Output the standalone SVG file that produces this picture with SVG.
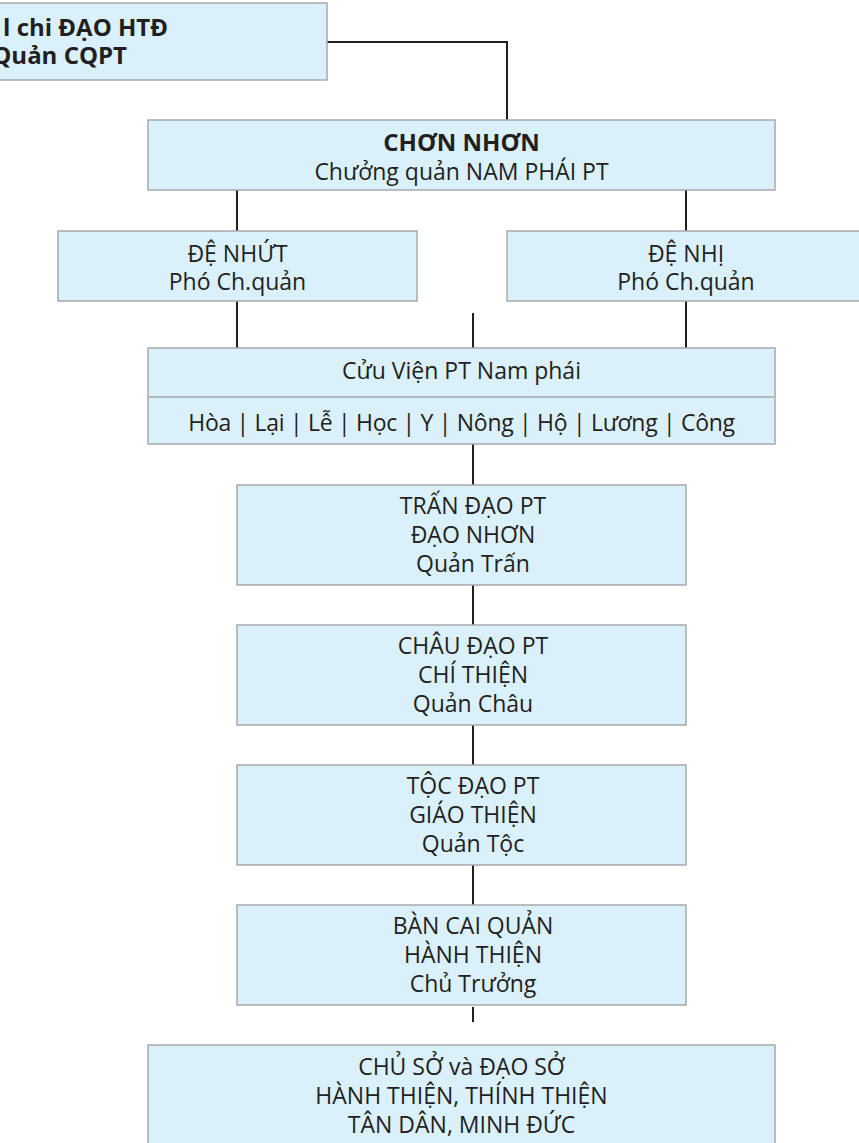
<svg xmlns="http://www.w3.org/2000/svg" width="859" height="1143" viewBox="0 0 859 1143">
<style>
.box{fill:#daf0fb;stroke:#a7a9ac;stroke-width:1.5}
.t{font-family:"Open Sans","Noto Sans","DejaVu Sans",sans-serif;font-size:23px;fill:#231f20;text-anchor:middle}
.b{font-weight:bold;font-size:24px}
.c{stroke:#231f20;stroke-width:2;fill:none}
</style>
<rect width="859" height="1143" fill="#ffffff"/>
<g id="connectors">
<path class="c" d="M327 42H507V120"/>
<path class="c" d="M237 190V231M686 190V231"/>
<path class="c" d="M237 301V348M686 301V348M473 313V348"/>
<path class="c" d="M473 444V485M473 585V625M473 725V765M473 865V905M473 1007V1022"/>
</g>
<g id="node-htd">
<rect class="box" x="-10" y="3" width="337" height="77"/>
<text class="t b" x="168" y="36" style="text-anchor:end">l chi ĐẠO HTĐ</text>
<text class="t b" x="127" y="64" style="text-anchor:end">Quản CQPT</text>
</g>
<g id="node-chonnhon">
<rect class="box" x="148" y="120" width="627" height="70"/>
<text class="t b" x="461.5" y="151">CHƠN NHƠN</text>
<text class="t" x="461.5" y="180">Chưởng quản NAM PHÁI PT</text>
</g>
<g id="node-denhut">
<rect class="box" x="58" y="231" width="359" height="70"/>
<text class="t" x="237.5" y="262">ĐỆ NHỨT</text>
<text class="t" x="237.5" y="290">Phó Ch.quản</text>
</g>
<g id="node-denhi">
<rect class="box" x="507" y="231" width="359" height="70"/>
<text class="t" x="686" y="262">ĐỆ NHỊ</text>
<text class="t" x="686" y="290">Phó Ch.quản</text>
</g>
<g id="node-cuuvien">
<rect class="box" x="148" y="348" width="627" height="96"/>
<line x1="148" y1="397" x2="775" y2="397" stroke="#a7a9ac" stroke-width="1.5"/>
<text class="t" x="461.5" y="379">Cửu Viện PT Nam phái</text>
<text class="t" x="461.5" y="431" style="letter-spacing:-0.3px">Hòa | Lại | Lễ | Học | Y | Nông | Hộ | Lương | Công</text>
</g>
<g id="node-tran">
<rect class="box" x="237" y="485" width="449" height="100"/>
<text class="t" x="473" y="514">TRẤN ĐẠO PT</text>
<text class="t" x="473" y="543">ĐẠO NHƠN</text>
<text class="t" x="473" y="572">Quản Trấn</text>
</g>
<g id="node-chau">
<rect class="box" x="237" y="625" width="449" height="100"/>
<text class="t" x="473" y="654">CHÂU ĐẠO PT</text>
<text class="t" x="473" y="683">CHÍ THIỆN</text>
<text class="t" x="473" y="712">Quản Châu</text>
</g>
<g id="node-toc">
<rect class="box" x="237" y="765" width="449" height="100"/>
<text class="t" x="473" y="794">TỘC ĐẠO PT</text>
<text class="t" x="473" y="823">GIÁO THIỆN</text>
<text class="t" x="473" y="852">Quản Tộc</text>
</g>
<g id="node-bancai">
<rect class="box" x="237" y="905" width="449" height="100"/>
<text class="t" x="473" y="934">BÀN CAI QUẢN</text>
<text class="t" x="473" y="963">HÀNH THIỆN</text>
<text class="t" x="473" y="992">Chủ Trưởng</text>
</g>
<g id="node-chuso">
<rect class="box" x="148" y="1045" width="627" height="110"/>
<text class="t" x="461.5" y="1075">CHỦ SỞ và ĐẠO SỞ</text>
<text class="t" x="461.5" y="1104">HÀNH THIỆN, THÍNH THIỆN</text>
<text class="t" x="461.5" y="1133">TÂN DÂN, MINH ĐỨC</text>
</g>
</svg>
